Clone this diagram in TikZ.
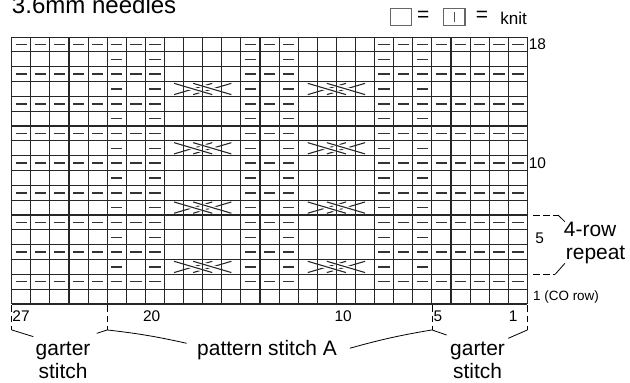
\documentclass[tikz,border=0pt]{standalone}
\usepackage{fontspec}
\setmainfont{Liberation Sans}
\begin{document}
\begin{tikzpicture}[x=0.5cm, y=0.3882cm,
  purl/.style={line width=1.1pt, black!80},
  cable/.style={line width=0.8pt, black!85},
  tick/.style={dash pattern=on 5pt off 2.5pt, line width=0.6pt},
  brace/.style={line width=0.6pt},
  lbl/.style={font=\fontsize{15.6}{17.1}\selectfont, inner sep=0},
  num/.style={font=\fontsize{11.5}{13}\selectfont, inner sep=0}]

\useasboundingbox (-0.613,-5.26) rectangle (32.37,20.5);

% title and key
\node[anchor=base west, font=\fontsize{17.9}{20}\selectfont, inner sep=0] (title) at (0,19.62) {3.6mm needles};
\draw[black!60, line width=0.8pt] (19.81,18.81) rectangle (20.94,19.94);
\node[lbl] (eqA) at (21.55,19.39) {=};
\draw[black!60, line width=0.8pt] (22.6,18.81) rectangle (23.73,19.94);
\draw[black!70, line width=0.8pt] (23.16,19.03) -- (23.16,19.71);
\node[lbl] (eqB) at (24.62,19.39) {=};
\node[anchor=base west, font=\fontsize{12.7}{14}\selectfont, inner sep=0] (knit) at (25.57,18.88) {knit};

% cables (rows 3, 7, 11, 15)
\foreach \j in {2,6,10,14} {
  \foreach \i in {8,15} {
    \draw[cable] (\i+0.5,\j+0.12) -- (\i+2.5,\j+0.88);
    \draw[cable] (\i+1.5,\j+0.12) -- (\i+3.5,\j+0.88);
    \draw[cable, preaction={draw, white, line width=2.8pt}] (\i+0.5,\j+0.88) -- (\i+2.5,\j+0.12);
    \draw[cable, preaction={draw, white, line width=2.8pt}] (\i+1.5,\j+0.88) -- (\i+3.5,\j+0.12);
  }
}

% purl stitches
\foreach \j in {1,3,...,17} {
  \foreach \i in {0,1,2,3,4,5,6,7,12,13,14,19,20,21,22,23,24,25,26}
    \draw[purl] (\i+0.2,\j+0.5) -- (\i+0.8,\j+0.5);
}
\foreach \j in {2,4,...,16} {
  \foreach \i in {5,7,12,14,19,21}
    \draw[purl] (\i+0.2,\j+0.5) -- (\i+0.8,\j+0.5);
}

% chart grid
\draw[black!85, line width=0.85pt, xstep=0.5cm, ystep=0.3882cm] (0,0) grid (27,18);

% row numbers
\node[num, anchor=west] (r18) at (27.06,17.5) {18};
\node[num, anchor=west] (r10) at (27.06,9.5) {10};
\node[num, anchor=west] (r5) at (27.4,4.4) {5};
\node[anchor=west, font=\fontsize{10}{12}\selectfont, inner sep=0] (r1) at (27.29,0.5) {1 (CO row)};

% 4-row repeat
\coordinate (repA) at (27.29,6);
\coordinate (repB) at (28.6,6);
\coordinate (repC) at (28.96,5.55);
\coordinate (repD) at (27.29,2);
\coordinate (repE) at (28.45,2);
\coordinate (repF) at (28.96,2.74);
\draw[tick] (repA) -- (repB);
\draw[brace] (repB) -- (repC);
\draw[tick] (repD) -- (repE);
\draw[brace] (repE) -- (repF);
\node[lbl, anchor=base west] (rowA) at (28.9,4.52) {4-row};
\node[lbl, anchor=base west] (rowB) at (29.0,3.03) {repeat};

% column numbers
\node[num, anchor=base] (c27) at (0.49,-1.21) {27};
\node[num, anchor=base] (c20) at (7.33,-1.21) {20};
\node[num, anchor=base] (c10) at (17.35,-1.21) {10};
\node[num, anchor=base] (c5) at (22.32,-1.21) {5};
\node[num, anchor=base] (c1) at (26.25,-1.21) {1};

% section ticks below
\coordinate (tA) at (0,-1.75);
\coordinate (tB) at (5,-1.75);
\coordinate (tC) at (22,-1.75);
\coordinate (tD) at (27,-1.75);
\draw[tick] (0,-0.1) -- (tA);
\draw[tick] (5,-0.1) -- (tB);
\draw[tick] (22,-0.1) -- (tC);
\draw[tick] (27,-0.1) -- (tD);

% braces to section labels
\coordinate (gLa) at (1.13,-2.2);
\coordinate (gLb) at (4.45,-1.98);
\coordinate (pA) at (9.16,-2.65);
\coordinate (pB) at (17.71,-2.98);
\coordinate (gRa) at (22.77,-2.09);
\coordinate (gRb) at (26.0,-2.31);
\draw[brace] (tA) -- (gLa);
\draw[brace] (tB) -- (gLb);
\draw[brace] (tB) to[bend left=3] (pA);
\draw[brace] (pB) to[bend left=3] (tC);
\draw[brace] (tC) -- (gRa);
\draw[brace] (tD) -- (gRb);

\node[lbl, anchor=base] (garterL) at (2.69,-3.44) {garter};
\node[lbl, anchor=base] (stitchL) at (2.69,-4.99) {stitch};
\node[lbl, anchor=base] (pattern) at (13.37,-3.44) {pattern stitch A};
\node[lbl, anchor=base] (garterR) at (24.39,-3.44) {garter};
\node[lbl, anchor=base] (stitchR) at (24.39,-4.99) {stitch};

\end{tikzpicture}
\end{document}
